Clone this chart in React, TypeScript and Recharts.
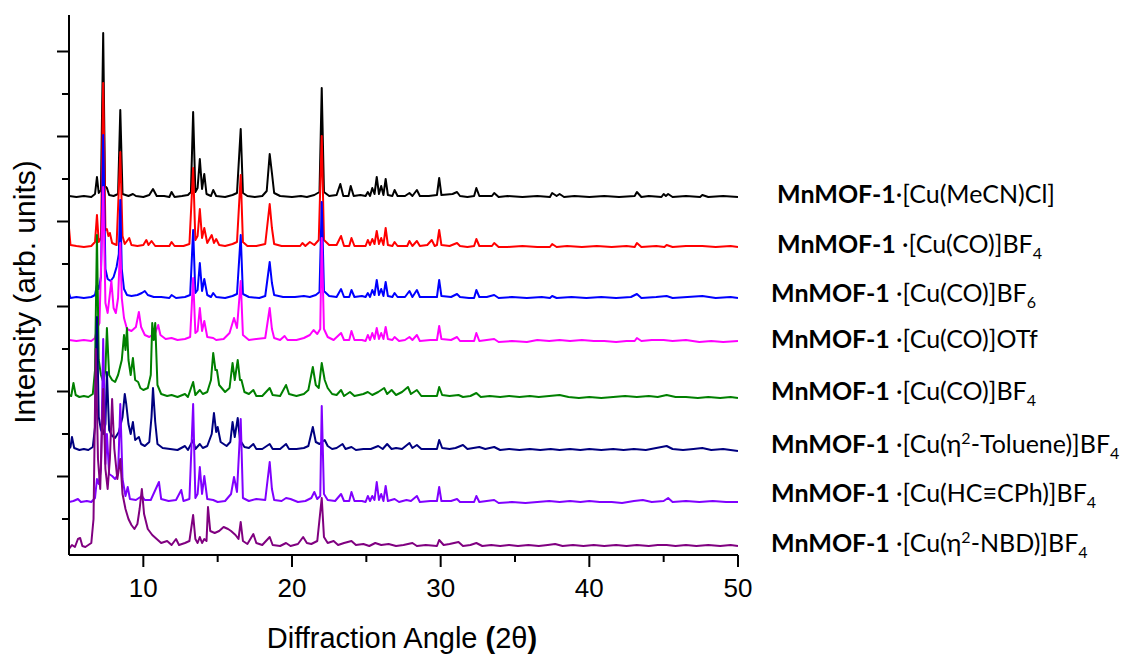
import { LineChart, Line, XAxis, YAxis } from 'recharts';

// stacked XRD patterns, heights in px above each trace's own baseline
const blackPts = [[5.0,2],[5.5,1],[6.0,2],[6.5,1],[6.75,4],[6.88,21],[7.0,5],[7.15,8],[7.3,165],[7.42,12],[7.55,10],[7.7,3],[8.0,2],[8.3,4],[8.45,88],[8.6,4],[8.8,3],[9.0,2],[9.3,4],[9.5,2],[10.0,1],[10.4,3],[10.65,9],[10.9,2],[11.4,2],[11.75,1],[11.9,6],[12.1,1],[12.6,2],[13.0,3],[13.2,6],[13.35,86],[13.5,6],[13.65,10],[13.8,39],[13.95,9],[14.1,24],[14.25,4],[14.55,2],[14.7,8],[14.9,2],[15.5,1],[16.0,3],[16.3,5],[16.55,69],[16.7,5],[17.0,2],[17.5,1],[18.0,2],[18.3,7],[18.5,44],[18.65,25],[18.8,5],[19.2,2],[20.0,1],[20.6,2],[21.0,1],[21.5,3],[21.85,6],[22.0,110],[22.15,6],[22.5,2],[23.0,3],[23.25,14],[23.45,2],[23.8,2],[23.95,12],[24.15,2],[24.6,3],[24.95,2],[25.1,6],[25.25,2],[25.4,10],[25.55,4],[25.7,21],[25.85,4],[26.0,12],[26.15,3],[26.3,19],[26.45,3],[26.75,2],[26.9,8],[27.1,2],[27.6,2],[27.9,5],[28.1,2],[28.4,8],[28.6,2],[29.2,2],[29.75,3],[29.9,20],[30.05,3],[30.8,4],[31.1,6],[31.3,2],[31.8,1],[32.25,2],[32.4,10],[32.6,2],[33.0,2],[33.45,2],[33.6,5],[33.9,1],[34.5,2],[35.5,1],[36.5,2],[37.35,1],[37.5,5],[37.8,2],[38.0,4],[38.3,1],[39.0,2],[40.0,1],[41.0,2],[42.0,1],[43.05,2],[43.2,6],[43.5,1],[44.0,2],[44.85,1],[45.0,4],[45.15,2],[45.3,4],[45.6,1],[46.5,2],[47.45,1],[47.6,3],[48.0,1],[49.0,2],[50.0,1]];
const redPts = [[5.0,20],[5.1,3],[5.5,2],[6.0,1],[6.5,2],[6.75,6],[6.88,33],[7.0,6],[7.15,10],[7.3,165],[7.45,18],[7.55,19],[7.65,12],[7.75,15],[7.9,5],[8.2,3],[8.45,96],[8.6,12],[8.75,4],[9.05,10],[9.2,3],[9.6,2],[10.0,3],[10.2,8],[10.35,3],[10.55,7],[10.8,2],[11.4,2],[11.75,2],[11.9,6],[12.1,2],[12.7,2],[13.1,4],[13.35,80],[13.5,8],[13.65,12],[13.8,39],[13.95,10],[14.1,20],[14.3,5],[14.6,13],[14.75,5],[14.9,9],[15.1,3],[15.5,2],[16.0,4],[16.3,6],[16.55,73],[16.7,6],[17.0,2],[17.6,2],[18.2,4],[18.5,44],[18.65,20],[18.8,4],[19.3,2],[20.0,2],[20.55,2],[20.7,5],[20.9,2],[21.2,6],[21.5,3],[21.8,8],[22.0,112],[22.15,8],[22.5,3],[23.0,3],[23.3,12],[23.5,2],[23.85,2],[24.0,10],[24.2,2],[24.7,2],[24.95,2],[25.1,8],[25.25,3],[25.4,9],[25.55,4],[25.7,17],[25.85,4],[26.0,10],[26.15,3],[26.3,20],[26.45,3],[26.75,2],[26.9,6],[27.1,2],[27.5,2],[27.75,2],[27.9,7],[28.1,2],[28.4,7],[28.6,2],[29.1,3],[29.4,8],[29.6,2],[29.75,3],[29.9,18],[30.05,3],[30.6,2],[31.1,5],[31.3,2],[31.8,1],[32.25,2],[32.4,9],[32.6,2],[33.0,2],[33.45,2],[33.6,5],[33.9,1],[34.5,1],[35.5,2],[36.5,1],[37.35,1],[37.5,4],[37.8,1],[38.5,2],[39.5,1],[40.5,2],[41.5,1],[42.5,2],[43.05,1],[43.2,5],[43.5,1],[44.5,2],[45.05,1],[45.2,3],[45.6,1],[46.5,2],[47.6,2],[48.5,1],[49.5,2],[50.0,1]];
const bluePts = [[5.0,6],[5.1,1],[5.5,2],[6.0,1],[6.5,2],[6.75,4],[6.88,14],[7.0,10],[7.15,22],[7.3,164],[7.45,30],[7.6,20],[7.8,18],[8.0,22],[8.2,32],[8.35,45],[8.45,99],[8.55,30],[8.7,10],[8.9,4],[9.2,3],[9.6,4],[9.9,6],[10.1,8],[10.3,4],[10.7,2],[11.2,2],[11.75,1],[11.9,4],[12.2,1],[12.8,2],[13.15,4],[13.35,69],[13.5,6],[13.65,9],[13.8,36],[13.95,8],[14.1,20],[14.3,4],[14.55,2],[14.7,6],[14.9,2],[15.5,1],[16.0,3],[16.3,5],[16.55,64],[16.7,5],[17.1,2],[17.8,1],[18.2,3],[18.5,37],[18.65,16],[18.8,4],[19.4,2],[20.2,2],[20.8,3],[21.2,2],[21.6,4],[21.85,7],[22.0,97],[22.15,8],[22.5,3],[23.0,2],[23.3,10],[23.5,2],[23.85,2],[24.0,9],[24.2,2],[24.7,3],[24.95,2],[25.1,6],[25.25,2],[25.4,9],[25.55,4],[25.7,19],[25.85,4],[26.0,10],[26.15,3],[26.3,17],[26.45,3],[26.75,2],[26.9,6],[27.1,2],[27.6,2],[27.9,8],[28.1,2],[28.4,9],[28.6,2],[29.3,2],[29.75,2],[29.9,19],[30.05,3],[30.7,2],[31.1,5],[31.3,2],[31.9,1],[32.25,1],[32.4,9],[32.6,2],[33.1,2],[33.6,4],[33.9,1],[34.8,2],[35.8,1],[36.8,2],[37.35,1],[37.5,3],[37.8,1],[38.8,2],[39.8,1],[40.8,2],[41.8,1],[42.8,2],[43.2,5],[43.5,1],[44.5,2],[45.2,3],[45.6,1],[46.6,2],[47.6,3],[48.5,1],[49.5,2],[50.0,1]];
const magentaPts = [[5.0,3],[5.5,2],[6.0,3],[6.5,2],[6.75,5],[6.9,15],[7.05,20],[7.3,156],[7.45,40],[7.6,30],[7.85,62],[8.0,35],[8.15,30],[8.3,45],[8.45,100],[8.55,45],[8.7,25],[8.9,14],[9.2,12],[9.5,16],[9.7,31],[9.85,16],[10.1,8],[10.4,6],[10.8,10],[11.0,18],[11.15,8],[11.5,4],[11.9,5],[12.3,3],[12.8,4],[13.15,6],[13.35,65],[13.5,10],[13.65,12],[13.8,35],[13.95,12],[14.1,22],[14.3,6],[14.7,5],[14.9,3],[15.4,4],[15.8,10],[16.1,25],[16.3,15],[16.55,62],[16.7,8],[17.1,3],[17.6,4],[18.2,5],[18.5,35],[18.65,14],[18.8,5],[19.2,3],[19.5,7],[19.7,3],[20.3,3],[20.8,5],[21.2,8],[21.45,13],[21.7,9],[21.9,14],[22.0,105],[22.15,14],[22.4,6],[22.8,3],[23.3,10],[23.5,3],[23.85,3],[24.0,12],[24.2,3],[24.7,3],[24.95,2],[25.1,8],[25.25,3],[25.4,10],[25.55,4],[25.7,15],[25.85,4],[26.0,10],[26.15,4],[26.3,16],[26.45,4],[26.75,3],[26.9,6],[27.2,2],[27.6,3],[27.9,6],[28.1,3],[28.4,8],[28.6,2],[29.3,3],[29.75,3],[29.9,17],[30.05,4],[30.7,3],[31.1,6],[31.3,2],[31.9,2],[32.25,2],[32.4,10],[32.6,2],[33.1,3],[33.6,4],[33.9,1],[34.8,2],[35.8,1],[36.5,3],[37.3,2],[38.0,3],[38.7,2],[39.5,3],[40.3,2],[41.0,2],[41.8,1],[42.5,2],[43.05,2],[43.2,5],[43.5,2],[44.2,3],[45.0,3],[45.6,2],[46.5,3],[47.4,1],[48.2,2],[49.0,1],[50.0,2]];
const greenPts = [[5.0,5],[5.15,4],[5.3,17],[5.45,5],[5.7,3],[6.0,4],[6.3,3],[6.6,6],[6.75,30],[6.88,165],[7.0,40],[7.15,25],[7.3,18],[7.45,30],[7.55,72],[7.7,25],[7.9,20],[8.1,18],[8.3,25],[8.55,40],[8.7,65],[8.8,50],[8.9,72],[9.0,40],[9.15,25],[9.3,42],[9.45,20],[9.65,18],[9.8,12],[10.0,10],[10.3,12],[10.5,25],[10.6,77],[10.7,60],[10.8,77],[10.95,15],[11.2,6],[11.6,4],[11.9,5],[12.3,3],[12.8,6],[13.0,3],[13.35,18],[13.5,5],[13.8,10],[14.0,6],[14.3,8],[14.55,20],[14.7,47],[14.85,30],[14.95,30],[15.1,15],[15.5,8],[15.8,12],[16.0,37],[16.15,20],[16.35,40],[16.5,20],[16.6,20],[16.8,8],[17.1,6],[17.4,10],[17.6,4],[18.0,4],[18.5,12],[18.7,5],[19.2,4],[19.6,15],[19.8,6],[20.3,4],[20.8,6],[21.1,10],[21.4,33],[21.6,15],[21.8,12],[22.0,37],[22.2,20],[22.4,12],[22.7,6],[23.0,5],[23.3,10],[23.5,4],[23.9,8],[24.2,4],[24.8,6],[25.1,8],[25.4,5],[25.8,8],[26.2,12],[26.4,6],[26.7,10],[27.0,5],[27.4,8],[27.8,13],[28.0,6],[28.4,10],[28.7,4],[29.3,4],[29.75,4],[29.9,13],[30.1,5],[30.6,4],[31.2,5],[31.5,3],[32.0,4],[32.4,7],[32.7,3],[33.3,4],[34.0,3],[34.6,4],[35.3,3],[36.0,4],[36.6,3],[37.3,4],[38.0,5],[38.6,3],[39.3,2],[40.0,3],[40.8,2],[41.6,3],[42.4,4],[43.2,3],[44.0,4],[44.6,3],[45.2,5],[45.8,3],[46.5,3],[47.3,2],[48.0,3],[48.8,2],[49.5,3],[50.0,2]];
const navyPts = [[5.0,3],[5.1,5],[5.2,15],[5.35,4],[5.7,2],[6.0,3],[6.3,2],[6.6,5],[6.75,25],[6.88,135],[7.0,35],[7.15,22],[7.3,18],[7.45,28],[7.55,80],[7.7,22],[7.9,16],[8.1,14],[8.35,20],[8.6,35],[8.75,58],[8.85,48],[9.0,28],[9.15,18],[9.3,30],[9.45,12],[9.7,15],[9.85,8],[10.1,6],[10.4,10],[10.55,35],[10.65,64],[10.8,30],[10.95,8],[11.3,4],[11.8,3],[12.3,2],[12.8,6],[13.0,2],[13.35,12],[13.5,3],[13.8,8],[14.0,4],[14.3,6],[14.6,18],[14.75,39],[14.9,20],[15.0,25],[15.2,10],[15.6,6],[15.85,10],[16.0,30],[16.15,15],[16.35,34],[16.5,12],[16.8,5],[17.1,4],[17.4,8],[17.6,3],[18.0,3],[18.5,8],[18.7,3],[19.2,3],[19.6,8],[19.8,3],[20.3,3],[20.8,4],[21.1,6],[21.4,25],[21.6,10],[21.85,8],[22.0,10],[22.2,12],[22.4,6],[22.7,3],[23.0,4],[23.4,8],[23.6,3],[24.0,5],[24.3,2],[24.8,3],[25.3,3],[25.8,6],[26.1,3],[26.4,8],[26.7,3],[27.0,4],[27.4,3],[27.9,9],[28.1,4],[28.4,7],[28.7,3],[29.3,3],[29.75,3],[29.9,12],[30.1,4],[30.6,3],[31.0,4],[31.5,7],[31.8,3],[32.2,4],[32.6,5],[33.0,3],[33.6,5],[34.0,2],[34.6,3],[35.3,2],[36.0,3],[36.7,2],[37.4,3],[38.0,2],[38.7,3],[39.4,2],[40.0,3],[40.8,2],[41.6,3],[42.3,2],[43.0,3],[43.8,2],[44.5,4],[45.2,6],[45.6,3],[46.3,2],[47.0,3],[47.6,4],[48.2,2],[49.0,3],[50.0,1]];
const violetPts = [[5.0,2],[5.3,3],[5.6,5],[5.8,2],[6.2,3],[6.5,2],[6.75,6],[6.88,25],[7.0,20],[7.15,35],[7.3,165],[7.45,40],[7.55,70],[7.7,30],[7.9,28],[8.1,25],[8.3,30],[8.45,100],[8.6,25],[8.8,8],[8.95,17],[9.1,5],[9.5,4],[9.9,8],[10.1,4],[10.5,4],[11.05,22],[11.2,5],[11.7,3],[12.2,4],[12.55,14],[12.7,3],[13.1,5],[13.35,100],[13.5,6],[13.65,10],[13.8,37],[13.95,10],[14.1,28],[14.3,5],[14.7,4],[15.0,2],[15.5,3],[15.9,10],[16.1,27],[16.3,12],[16.55,85],[16.7,6],[17.1,3],[17.6,5],[18.2,4],[18.5,42],[18.65,15],[18.8,4],[19.3,3],[19.6,6],[19.9,5],[20.4,2],[20.9,3],[21.3,6],[21.5,12],[21.7,5],[21.9,8],[22.0,98],[22.15,10],[22.4,4],[22.9,3],[23.3,10],[23.5,3],[23.85,3],[24.0,12],[24.2,3],[24.7,3],[24.95,2],[25.1,8],[25.25,3],[25.4,8],[25.55,4],[25.7,22],[25.85,4],[26.0,10],[26.15,3],[26.3,18],[26.45,3],[26.9,5],[27.2,2],[27.7,4],[28.0,3],[28.4,8],[28.6,2],[29.3,3],[29.75,3],[29.9,17],[30.05,3],[30.7,3],[31.1,5],[31.3,2],[31.9,2],[32.25,2],[32.4,8],[32.6,2],[33.1,3],[33.6,4],[33.9,1],[34.8,2],[35.7,1],[36.5,2],[37.3,3],[38.0,2],[38.7,3],[39.4,2],[40.0,3],[40.7,2],[41.5,2],[42.2,1],[43.0,3],[43.6,4],[44.2,2],[45.0,3],[45.3,6],[45.6,2],[46.5,3],[47.4,2],[48.3,3],[49.2,2],[50.0,2]];
const purplePts = [[5.0,0],[5.2,4],[5.4,2],[5.6,10],[5.75,11],[5.9,3],[6.1,2],[6.3,4],[6.5,6],[6.65,30],[6.8,200],[6.95,90],[7.1,60],[7.3,160],[7.45,80],[7.6,60],[7.75,90],[7.9,150],[8.05,100],[8.25,70],[8.45,90],[8.6,55],[8.8,40],[9.0,30],[9.2,24],[9.4,20],[9.6,25],[9.75,40],[9.9,60],[10.05,35],[10.3,20],[10.6,14],[10.9,10],[11.2,6],[11.6,8],[11.9,4],[12.2,10],[12.4,4],[12.8,6],[13.1,8],[13.35,34],[13.5,10],[13.65,6],[13.8,12],[13.95,6],[14.1,10],[14.25,8],[14.35,42],[14.5,18],[14.8,16],[15.1,18],[15.4,22],[15.7,20],[15.9,18],[16.2,14],[16.4,10],[16.55,27],[16.7,8],[17.0,5],[17.4,15],[17.6,6],[18.0,4],[18.5,12],[18.7,4],[19.2,3],[19.6,6],[19.9,3],[20.4,5],[20.75,12],[21.0,6],[21.3,5],[21.7,8],[22.0,51],[22.15,12],[22.4,6],[22.8,8],[23.1,4],[23.5,6],[24.0,8],[24.3,4],[24.8,5],[25.2,3],[25.6,6],[26.0,4],[26.5,5],[27.0,3],[27.5,4],[28.1,6],[28.4,3],[29.0,4],[29.75,3],[29.9,9],[30.2,4],[30.6,5],[31.2,7],[31.5,3],[32.0,4],[32.4,6],[32.8,3],[33.4,4],[34.0,3],[34.6,4],[35.2,3],[35.9,4],[36.6,3],[37.2,4],[37.7,5],[38.2,3],[38.9,4],[39.6,3],[40.3,4],[41.0,3],[41.8,4],[42.5,3],[43.2,4],[44.0,3],[44.6,4],[45.2,4],[45.8,3],[46.5,4],[47.2,3],[48.0,4],[48.8,3],[49.5,4],[50.0,3]];

// vertical stacking offsets (same units as the y axis)
const offsets = [357, 307, 256, 212, 155, 103, 51, 6];
const seriesPts = [blackPts, redPts, bluePts, magentaPts, greenPts, navyPts, violetPts, purplePts];
const colors = ['#000000', '#FF0000', '#0000FF', '#FF00FF', '#008000', '#000080', '#8000FF', '#800080'];

const xTicks = [10, 15, 20, 25, 30, 35, 40, 45, 50];
const yTicks = [36, 78.5, 121, 163.5, 206, 248.5, 291, 333.5, 376, 418.5, 461, 503.5];
const yMajor = [78.5, 163.5, 248.5, 333.5, 418.5, 503.5];

const labelBold = 'MnMOF-1';
const labelRest = [
  [{ t: '·[Cu(MeCN)Cl]' }],
  [{ t: ' ·[Cu(CO)]BF' }, { t: '4', s: 'sub' }],
  [{ t: ' ·[Cu(CO)]BF' }, { t: '6', s: 'sub' }],
  [{ t: ' ·[Cu(CO)]OTf' }],
  [{ t: ' ·[Cu(CO)]BF' }, { t: '4', s: 'sub' }],
  [{ t: ' ·[Cu(η' }, { t: '2', s: 'sup' }, { t: '-Toluene)]BF' }, { t: '4', s: 'sub' }],
  [{ t: ' ·[Cu(HC≡CPh)]BF' }, { t: '4', s: 'sub' }],
  [{ t: ' ·[Cu(η' }, { t: '2', s: 'sup' }, { t: '-NBD)]BF' }, { t: '4', s: 'sub' }],
];

const X0 = 69;
const Y0 = 555;
const labelX = [777, 777, 771, 771, 771, 771, 771, 771];
const labelY = [203, 253, 302, 348, 400, 453, 502, 552];
const axisFont = '"Liberation Sans", Arial, sans-serif';
const labelFont = 'Lato, "Open Sans", sans-serif';

const YTick = (props: any) => {
  const major = yMajor.includes(props.payload.value);
  return <line x1={X0 - (major ? 12 : 7)} x2={X0} y1={props.y} y2={props.y} stroke="#000" strokeWidth={2} />;
};

const XTick = (props: any) => {
  const v = props.payload.value;
  const major = v % 10 === 0;
  return (
    <g>
      <line x1={props.x} x2={props.x} y1={Y0} y2={Y0 + (major ? 12 : 7)} stroke="#000" strokeWidth={2} />
      {major && (
        <text x={props.x} y={597} textAnchor="middle" fontSize={26} fontFamily={axisFont} fill="#000">{v}</text>
      )}
    </g>
  );
};

const shift = (s?: string) => (s === 'sub' ? 6 : s === 'sup' ? -9 : 0);

export default function App() {
  const series = seriesPts.map((pts, i) => pts.map(([x, h]) => ({ x, y: offsets[i] + h })));

  return (
    <div style={{ position: 'absolute', left: 0, top: 0, width: 1127, height: 654, background: '#fff' }}>
      <LineChart width={1127} height={654} margin={{ top: 15, right: 389, bottom: 0, left: 0 }}>
        <XAxis
          type="number"
          dataKey="x"
          domain={[5, 50]}
          ticks={xTicks}
          tick={XTick}
          tickLine={false}
          height={99}
          axisLine={{ stroke: '#000', strokeWidth: 2 }}
          allowDataOverflow
        />
        <YAxis
          type="number"
          domain={[0, 540]}
          ticks={yTicks}
          tick={YTick}
          tickLine={false}
          width={69}
          axisLine={{ stroke: '#000', strokeWidth: 2 }}
          allowDataOverflow
        />
        {series.map((d, i) => (
          <Line
            key={i}
            data={d}
            dataKey="y"
            type="linear"
            stroke={colors[i]}
            strokeWidth={2}
            strokeLinejoin="round"
            dot={false}
            isAnimationActive={false}
          />
        ))}
      </LineChart>
      <svg width={1127} height={654} style={{ position: 'absolute', left: 0, top: 0, pointerEvents: 'none' }}>
        <text x={35} y={292} transform="rotate(-90, 35, 292)" textAnchor="middle" fontSize={30} fontFamily={axisFont} fill="#000">
          Intensity (arb. units)
        </text>
        <text x={402} y={648} textAnchor="middle" fontSize={29} fontFamily={axisFont} fill="#000">
          Diffraction Angle <tspan fontWeight="bold">(</tspan>2θ<tspan fontWeight="bold">)</tspan>
        </text>
        {labelRest.map((segs, i) => {
          let prev = 0;
          return (
            <text key={i} x={labelX[i]} y={labelY[i]} fontSize={25} fontFamily={labelFont} fill="#000" style={{ whiteSpace: 'pre' }}>
              <tspan fontWeight="bold">{labelBold}</tspan>
              {segs.map((sg, j) => {
                const off = shift(sg.s);
                const dy = off - prev;
                prev = off;
                return (
                  <tspan key={j} dy={dy} fontSize={sg.s ? 16 : 25}>{sg.t}</tspan>
                );
              })}
            </text>
          );
        })}
      </svg>
    </div>
  );
}
